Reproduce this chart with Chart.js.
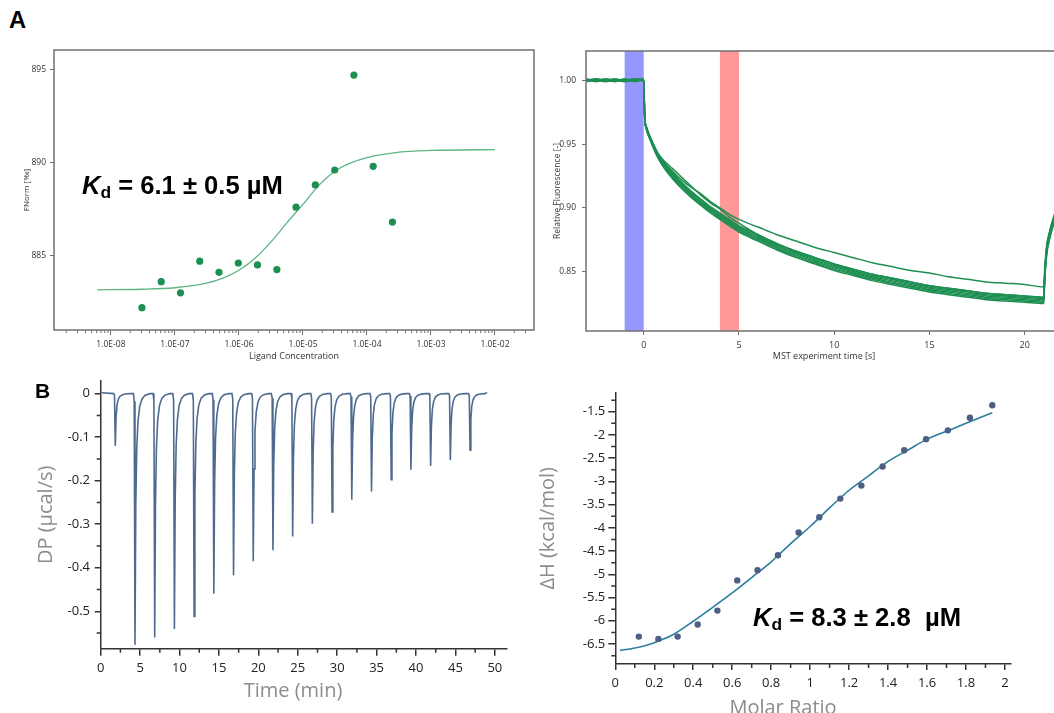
<!DOCTYPE html>
<html><head><meta charset="utf-8">
<script src="https://cdn.jsdelivr.net/npm/chart.js@4.4.1/dist/chart.umd.min.js"></script>
<style>
html,body{margin:0;padding:0;background:#fff;width:1054px;height:713px;overflow:hidden;position:relative;}
canvas{position:absolute;}
.lbl{position:absolute;font-family:"Liberation Sans",Arial,sans-serif;font-weight:bold;color:#000;line-height:1;white-space:nowrap;}
.kd sub{font-size:0.68em;vertical-align:-0.25em;line-height:0;}
.ttl{position:absolute;font-family:"Open Sans",sans-serif;color:#8c8c8c;line-height:1;white-space:nowrap;transform:translateX(-50%);}
</style></head><body>
<canvas id="cA1" width="545" height="335" style="left:0;top:40px"></canvas>
<canvas id="cA2" width="517" height="335" style="left:545px;top:40px"></canvas>
<canvas id="cB1" width="530" height="338" style="left:0;top:375px"></canvas>
<canvas id="cB2" width="524" height="338" style="left:530px;top:375px"></canvas>
<div class="lbl" style="left:9px;top:8.9px;font-size:23.7px">A</div>
<div class="lbl" style="left:35px;top:380.3px;font-size:21px">B</div>
<div class="lbl kd" style="left:82px;top:173.4px;font-size:25.6px"><i>K</i><sub>d</sub> = 6.1 ± 0.5 µM</div>
<div class="lbl kd" style="left:753px;top:605px;font-size:25.6px"><i>K</i><sub>d</sub> = 8.3 ± 2.8 &nbsp;µM</div>
<div class="ttl" style="left:293px;top:679.8px;font-size:20px">Time (min)</div>
<div class="ttl" style="left:783px;top:696.5px;font-size:20px">Molar Ratio</div>
<script>
// ---------- Panel A (left): MST dose response ----------
const ligandConc = [3.05e-8, 6.1e-8, 1.22e-7, 2.44e-7, 4.88e-7, 9.77e-7, 1.95e-6, 3.91e-6, 7.81e-6, 1.56e-5, 3.13e-5, 6.25e-5, 1.25e-4, 2.5e-4];
const fnorm = [882.2, 883.6, 883.0, 884.7, 884.1, 884.6, 884.5, 884.25, 887.6, 888.8, 889.6, 894.7, 889.8, 886.8];
const fitConcA = [6.1e-9, 3e-8, 1e-7, 3e-7, 6e-7, 1e-6, 1.8e-6, 3.2e-6, 5.6e-6, 1e-5, 1.8e-5, 3.2e-5, 5.6e-5, 1e-4, 3.2e-4, 1e-3, 1e-2];
const fitFnorm = [883.16, 883.19, 883.27, 883.5, 883.83, 884.21, 884.87, 885.75, 886.76, 887.75, 888.8, 889.55, 889.98, 890.27, 890.56, 890.65, 890.7];
const concTicks = [1e-8, 1e-7, 1e-6, 1e-5, 1e-4, 1e-3, 1e-2];
const concTickLabels = ['1.0E-08', '1.0E-07', '1.0E-06', '1.0E-05', '1.0E-04', '1.0E-03', '1.0E-02'];
const fnormTicks = [885, 890, 895];
const fnormTickLabels = ['885', '890', '895'];

// ---------- Panel A (right): MST traces ----------
const mstTime = [-3, -2.5, -2, -1.5, -1, -0.5, 0, 0.05, 0.15, 0.3, 0.5, 0.75, 1, 1.5, 2, 2.5, 3, 3.5, 4, 4.5, 5, 6, 7, 8, 9, 10, 11, 12, 13, 14, 15, 16, 17, 18, 19, 20, 21, 21.05, 21.15, 21.3, 21.5, 21.9];
const mstTrace1 = [1.001,0.999,1.000,1.001,0.999,1.000,1.001,0.971,0.961,0.955,0.948,0.940,0.933,0.923,0.915,0.908,0.902,0.896,0.891,0.886,0.881,0.874,0.867,0.861,0.856,0.851,0.847,0.843,0.840,0.837,0.834,0.832,0.830,0.828,0.827,0.826,0.825,0.842,0.862,0.875,0.886,0.902];
const mstTrace2 = [0.999,1.001,1.000,0.999,1.001,1.000,1.000,0.971,0.961,0.955,0.947,0.939,0.933,0.924,0.916,0.909,0.903,0.897,0.892,0.887,0.882,0.875,0.868,0.862,0.857,0.852,0.848,0.844,0.841,0.838,0.835,0.833,0.831,0.829,0.828,0.827,0.826,0.843,0.864,0.876,0.887,0.903];
const mstTrace3 = [1.000,1.001,0.999,1.000,1.000,1.001,0.999,0.972,0.962,0.955,0.948,0.940,0.934,0.925,0.917,0.910,0.904,0.898,0.893,0.888,0.883,0.876,0.869,0.863,0.858,0.853,0.849,0.845,0.842,0.839,0.836,0.834,0.832,0.830,0.829,0.828,0.827,0.844,0.865,0.877,0.888,0.904];
const mstTrace4 = [1.000,0.999,1.001,1.000,0.999,1.000,1.001,0.972,0.962,0.956,0.949,0.941,0.935,0.926,0.918,0.911,0.905,0.899,0.894,0.889,0.884,0.877,0.870,0.864,0.859,0.854,0.850,0.846,0.843,0.840,0.837,0.835,0.833,0.831,0.830,0.829,0.828,0.845,0.866,0.878,0.889,0.905];
const mstTrace5 = [1.001,1.000,1.000,0.999,1.000,1.001,1.000,0.972,0.963,0.956,0.949,0.941,0.935,0.927,0.919,0.912,0.906,0.900,0.895,0.890,0.885,0.878,0.871,0.865,0.860,0.855,0.851,0.847,0.844,0.841,0.838,0.836,0.834,0.832,0.831,0.830,0.829,0.846,0.867,0.879,0.890,0.906];
const mstTrace6 = [0.999,1.000,1.001,1.000,1.001,0.999,1.000,0.972,0.963,0.957,0.950,0.942,0.936,0.928,0.920,0.913,0.907,0.901,0.896,0.891,0.886,0.879,0.872,0.866,0.861,0.856,0.852,0.848,0.845,0.842,0.839,0.837,0.835,0.833,0.832,0.831,0.830,0.847,0.868,0.880,0.891,0.907];
const mstTrace7 = [1.000,1.000,0.999,1.001,1.000,1.000,1.000,0.972,0.963,0.957,0.950,0.943,0.938,0.931,0.924,0.917,0.910,0.904,0.899,0.893,0.888,0.879,0.872,0.866,0.861,0.856,0.852,0.848,0.845,0.842,0.839,0.837,0.835,0.833,0.832,0.831,0.830,0.847,0.868,0.880,0.891,0.907];
const mstTrace8 = [1.000,1.001,1.000,1.000,0.999,1.000,1.000,0.972,0.963,0.957,0.950,0.942,0.937,0.929,0.922,0.916,0.911,0.905,0.900,0.895,0.891,0.885,0.879,0.874,0.869,0.865,0.861,0.857,0.854,0.851,0.849,0.846,0.844,0.842,0.841,0.840,0.838,0.852,0.870,0.881,0.892,0.908];
const mstTraces = [mstTrace1, mstTrace2, mstTrace3, mstTrace4, mstTrace5, mstTrace6, mstTrace7, mstTrace8];
const coldRegion = [-1, 0];
const hotRegion = [4, 5];
const mstTimeTicks = [0, 5, 10, 15, 20];
const mstTimeTickLabels = ['0', '5', '10', '15', '20'];
const relFluoTicks = [0.85, 0.90, 0.95, 1.00];
const relFluoTickLabels = ['0.85', '0.90', '0.95', '1.00'];

// ---------- Panel B (left): ITC thermogram ----------
const injTimes = [1.75, 4.25, 6.75, 9.25, 11.75, 14.25, 16.75, 19.25, 21.75, 24.25, 26.75, 29.25, 31.75, 34.25, 36.75, 39.25, 41.75, 44.25, 46.75];
const peakDP = [-0.120, -0.577, -0.560, -0.541, -0.512, -0.460, -0.417, -0.385, -0.360, -0.328, -0.299, -0.272, -0.244, -0.225, -0.198, -0.175, -0.166, -0.153, -0.130];
const peakShapeDt = [-0.1, 0, 0.1, 0.2, 0.32, 0.48, 0.7, 1.0, 1.4, 2.0];
const peakShapeFrac = [0, 0.03, 1, 0.45, 0.22, 0.11, 0.05, 0.02, 0.006, 0];
const thermoStart = [0.15, 0.002];
const thermoEnd = [49.0, 0.003];
const timeTicks = [0, 5, 10, 15, 20, 25, 30, 35, 40, 45, 50];
const timeTickLabels = ['0', '5', '10', '15', '20', '25', '30', '35', '40', '45', '50'];
const timeMinor = [2.5, 7.5, 12.5, 17.5, 22.5, 27.5, 32.5, 37.5, 42.5, 47.5];
const dpTicks = [-0.5, -0.4, -0.3, -0.2, -0.1, 0];
const dpTickLabels = ['-0.5', '-0.4', '-0.3', '-0.2', '-0.1', '0'];
const dpMinor = [-0.55, -0.45, -0.35, -0.25, -0.15, -0.05];

// ---------- Panel B (right): ITC isotherm ----------
const molarRatio = [0.121, 0.221, 0.320, 0.423, 0.524, 0.626, 0.730, 0.835, 0.941, 1.047, 1.155, 1.263, 1.372, 1.483, 1.595, 1.707, 1.820, 1.935];
const deltaH = [-6.34, -6.39, -6.34, -6.08, -5.78, -5.13, -4.91, -4.59, -4.10, -3.77, -3.37, -3.09, -2.68, -2.33, -2.09, -1.90, -1.63, -1.36];
const fitRatio = [0.024, 0.12, 0.2, 0.3, 0.4, 0.5, 0.6, 0.7, 0.8, 0.9, 1.0, 1.1, 1.2, 1.3, 1.4, 1.5, 1.6, 1.7, 1.8, 1.935];
const fitDeltaH = [-6.64, -6.57, -6.47, -6.29, -6.01, -5.71, -5.40, -5.07, -4.73, -4.34, -3.97, -3.57, -3.19, -2.88, -2.57, -2.33, -2.09, -1.92, -1.75, -1.52];
const ratioTicks = [0, 0.2, 0.4, 0.6, 0.8, 1.0, 1.2, 1.4, 1.6, 1.8, 2.0];
const ratioTickLabels = ['0', '0.2', '0.4', '0.6', '0.8', '1', '1.2', '1.4', '1.6', '1.8', '2'];
const ratioMinor = [0.1, 0.3, 0.5, 0.7, 0.9, 1.1, 1.3, 1.5, 1.7, 1.9];
const dhTicks = [-6.5, -6, -5.5, -5, -4.5, -4, -3.5, -3, -2.5, -2, -1.5];
const dhTickLabels = ['-6.5', '-6', '-5.5', '-5', '-4.5', '-4', '-3.5', '-3', '-2.5', '-2', '-1.5'];
const dhMinor = [-6.75, -6.25, -5.75, -5.25, -4.75, -4.25, -3.75, -3.25, -2.75, -2.25, -1.75, -1.25];

// ---------- helpers ----------
Chart.defaults.font.family = "'Open Sans', sans-serif";
Chart.defaults.animation = false;
Chart.defaults.plugins.legend.display = false;
Chart.defaults.plugins.tooltip.enabled = false;
Chart.defaults.events = [];

function fixSize(size) {
  return s => {
    if (s.isHorizontal()) s.height = size; else s.width = size;
    s.paddingLeft = 0; s.paddingRight = 0; s.paddingTop = 0; s.paddingBottom = 0;
  };
}
function setTicks(vals) { return s => { s.ticks = vals.map(v => ({ value: v })); }; }
function pts(xs, ys) { return xs.map((x, i) => ({ x: x, y: ys[i] })); }

const plotFrame = {
  id: 'plotFrame',
  afterDraw(chart, args, o) {
    const { ctx, chartArea: a } = chart;
    ctx.save(); ctx.strokeStyle = o.color; ctx.lineWidth = o.width;
    ctx.strokeRect(a.left, a.top, a.right - a.left, a.bottom - a.top);
    ctx.restore();
  }
};
const minorTicks = {
  id: 'minorTicks',
  afterDraw(chart, args, o) {
    const { ctx, chartArea: a } = chart;
    ctx.save(); ctx.strokeStyle = o.color; ctx.lineWidth = o.width;
    ctx.beginPath();
    if (o.x) o.x.values.forEach(v => { const p = chart.scales.x.getPixelForValue(v); ctx.moveTo(p, a.bottom); ctx.lineTo(p, a.bottom + o.x.len); });
    if (o.y) o.y.values.forEach(v => { const p = chart.scales.y.getPixelForValue(v); ctx.moveTo(a.left, p); ctx.lineTo(a.left - o.y.len, p); });
    ctx.stroke(); ctx.restore();
  }
};
const shadeBands = {
  id: 'shadeBands',
  beforeDatasetsDraw(chart, args, o) {
    const { ctx, chartArea: a, scales: { x } } = chart;
    ctx.save();
    o.items.forEach(b => {
      const x0 = x.getPixelForValue(b.range[0]), x1 = x.getPixelForValue(b.range[1]);
      ctx.fillStyle = b.color; ctx.fillRect(x0, a.top, x1 - x0, a.bottom - a.top);
    });
    ctx.restore();
  }
};

// log minor ticks for the concentration axis
const concMinor = [];
for (let d = -9; d <= -2; d++) for (let m = 2; m <= 9; m++) { const v = m * Math.pow(10, d); if (v > 1.3e-9 && v < 4.0e-2) concMinor.push(v); }

const tickFontA = { family: "'Open Sans', sans-serif", size: 8.5 };
const tickFontB = { family: "'Open Sans', sans-serif", size: 13 };

// ---------- Chart A1 ----------
new Chart(document.getElementById('cA1'), {
  type: 'line',
  data: { datasets: [
    { data: pts(ligandConc, fnorm), showLine: false, pointRadius: 3.6, pointBackgroundColor: '#1b9050', pointBorderColor: '#1b9050', pointBorderWidth: 0 },
    { data: pts(fitConcA, fitFnorm), borderColor: '#5cb585', borderWidth: 1.3, pointRadius: 0, cubicInterpolationMode: 'monotone' }
  ] },
  options: {
    responsive: false,
    layout: { padding: { left: 0, top: 10, right: 11, bottom: 0 } },
    scales: {
      x: { type: 'logarithmic', min: 1.29e-9, max: 4.07e-2, afterFit: fixSize(45), afterBuildTicks: setTicks(concTicks),
        ticks: { callback: (v, i) => concTickLabels[i], font: tickFontA, color: '#333', padding: 4, maxRotation: 0, autoSkip: false },
        grid: { drawOnChartArea: false, drawTicks: true, tickLength: 5, color: '#6e6e6e', lineWidth: 1 },
        border: { display: false },
        title: { display: true, text: 'Ligand Concentration', font: { size: 9 }, color: '#333', padding: { top: 0, bottom: 13.6 } } },
      y: { type: 'linear', min: 881, max: 896.05, afterFit: fixSize(54), afterBuildTicks: setTicks(fnormTicks),
        ticks: { callback: (v, i) => fnormTickLabels[i], font: tickFontA, color: '#333', padding: 4, autoSkip: false },
        grid: { drawOnChartArea: false, drawTicks: true, tickLength: 4, color: '#6e6e6e' },
        border: { display: false },
        title: { display: true, text: 'FNorm [‰]', font: { size: 8 }, color: '#333', padding: { top: 22.2, bottom: 0 } } }
    },
    plugins: { plotFrame: { color: '#707070', width: 1.5 }, minorTicks: { color: '#6e6e6e', width: 1, x: { values: concMinor, len: 3 } } }
  },
  plugins: [plotFrame, minorTicks]
});

// ---------- Chart A2 ----------
new Chart(document.getElementById('cA2'), {
  type: 'line',
  data: { datasets: mstTraces.map(tr => ({ data: pts(mstTime, tr), borderColor: '#1e8f52', borderWidth: 1.5, pointRadius: 0, cubicInterpolationMode: 'monotone' })) },
  options: {
    responsive: false,
    layout: { padding: { left: 0, top: 11, right: 0, bottom: 0 } },
    scales: {
      x: { type: 'linear', min: -3.03, max: 21.96, afterFit: fixSize(44), afterBuildTicks: setTicks(mstTimeTicks),
        ticks: { callback: (v, i) => mstTimeTickLabels[i], font: { size: 9 }, color: '#333', padding: 5, maxRotation: 0, autoSkip: false },
        grid: { drawOnChartArea: false, drawTicks: true, tickLength: 4, color: '#6e6e6e' },
        border: { display: false },
        title: { display: true, text: 'MST experiment time [s]', font: { size: 9 }, color: '#333', padding: { top: 0, bottom: 13.6 } } },
      y: { type: 'linear', min: 0.8035, max: 1.023, afterFit: fixSize(41), afterBuildTicks: setTicks(relFluoTicks),
        ticks: { callback: (v, i) => relFluoTickLabels[i], font: { size: 8.5 }, color: '#333', padding: 6, autoSkip: false },
        grid: { drawOnChartArea: false, drawTicks: true, tickLength: 4, color: '#6e6e6e' },
        border: { display: false },
        title: { display: true, text: 'Relative Fluorescence [-]', font: { size: 8.5 }, color: '#333', padding: { top: 7.6, bottom: 0 } } }
    },
    plugins: {
      plotFrame: { color: '#707070', width: 1.5 },
      shadeBands: { items: [ { range: coldRegion, color: 'rgba(150,150,255,1)' }, { range: hotRegion, color: 'rgba(255,152,152,1)' } ] }
    }
  },
  plugins: [plotFrame, shadeBands]
});

// ---------- Chart B1 ----------
const thermo = [{ x: thermoStart[0], y: thermoStart[1] }];
injTimes.forEach((t0, i) => {
  peakShapeDt.forEach((dt, j) => thermo.push({ x: t0 + dt, y: peakDP[i] * peakShapeFrac[j] }));
});
thermo.push({ x: thermoEnd[0], y: thermoEnd[1] });

new Chart(document.getElementById('cB1'), {
  type: 'line',
  data: { datasets: [ { data: thermo, borderColor: '#4f6a8f', borderWidth: 1.6, pointRadius: 0, tension: 0 } ] },
  options: {
    responsive: false,
    layout: { padding: { left: 0, top: 6, right: 23.3, bottom: 0 } },
    scales: {
      x: { type: 'linear', min: 0, max: 51.5, afterFit: fixSize(64.3), afterBuildTicks: setTicks(timeTicks),
        ticks: { callback: (v, i) => timeTickLabels[i], font: tickFontB, color: '#222', padding: 4.5, maxRotation: 0, autoSkip: false },
        grid: { drawOnChartArea: false, drawTicks: true, tickLength: 7, color: '#333', lineWidth: 1.5 },
        border: { display: true, color: '#333', width: 1.5 } },
      y: { type: 'linear', min: -0.586, max: 0.029, afterFit: fixSize(100.7), afterBuildTicks: setTicks(dpTicks),
        ticks: { callback: (v, i) => dpTickLabels[i], font: tickFontB, color: '#222', padding: 4.7, autoSkip: false },
        grid: { drawOnChartArea: false, drawTicks: true, tickLength: 6, color: '#333', lineWidth: 1.5 },
        border: { display: true, color: '#333', width: 1.5 },
        title: { display: true, text: 'DP (µcal/s)', font: { size: 20 }, color: '#8c8c8c', padding: { top: 34.7, bottom: 0 } } }
    },
    plugins: { minorTicks: { color: '#333', width: 1.5, x: { values: timeMinor, len: 4 }, y: { values: dpMinor, len: 4 } } }
  },
  plugins: [minorTicks]
});

// ---------- Chart B2 ----------
new Chart(document.getElementById('cB2'), {
  type: 'line',
  data: { datasets: [
    { data: pts(molarRatio, deltaH), showLine: false, pointRadius: 3.2, pointBackgroundColor: '#4d5f84', pointBorderColor: '#4d5f84', pointBorderWidth: 0 },
    { data: pts(fitRatio, fitDeltaH), borderColor: '#2a7d9f', borderWidth: 1.6, pointRadius: 0, cubicInterpolationMode: 'monotone' }
  ] },
  options: {
    responsive: false,
    layout: { padding: { left: 0, top: 17.7, right: 43, bottom: 0 } },
    scales: {
      x: { type: 'linear', min: 0, max: 2.031, afterFit: fixSize(49), afterBuildTicks: setTicks(ratioTicks),
        ticks: { callback: (v, i) => ratioTickLabels[i], font: tickFontB, color: '#222', padding: 5.5, maxRotation: 0, autoSkip: false },
        grid: { drawOnChartArea: false, drawTicks: true, tickLength: 6, color: '#333', lineWidth: 1.5 },
        border: { display: true, color: '#333', width: 1.5 } },
      y: { type: 'linear', min: -6.93, max: -1.09, afterFit: fixSize(85.3), afterBuildTicks: setTicks(dhTicks),
        ticks: { callback: (v, i) => dhTickLabels[i], font: tickFontB, color: '#222', padding: 3, autoSkip: false },
        grid: { drawOnChartArea: false, drawTicks: true, tickLength: 7, color: '#333', lineWidth: 1.5 },
        border: { display: true, color: '#333', width: 1.5 },
        title: { display: true, text: 'ΔH (kcal/mol)', font: { size: 20 }, color: '#8c8c8c', padding: { top: 6.3, bottom: 0 } } }
    },
    plugins: { minorTicks: { color: '#333', width: 1.5, x: { values: ratioMinor, len: 4 }, y: { values: dhMinor, len: 4 } } }
  },
  plugins: [minorTicks]
});
</script>
</body></html>
